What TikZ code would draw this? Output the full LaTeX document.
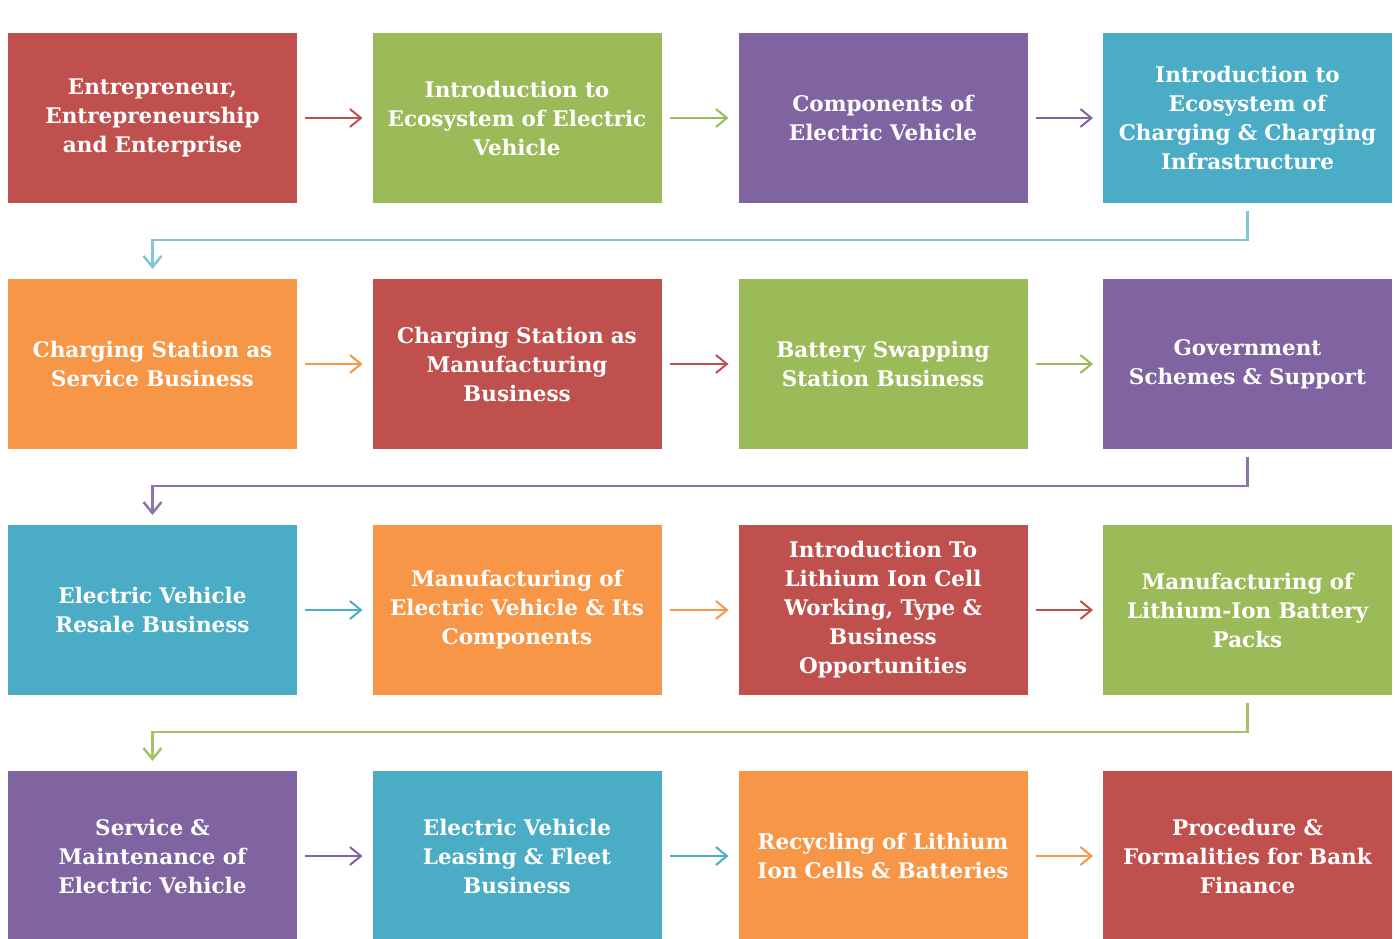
\documentclass[tikz,border=0pt]{standalone}
\usepackage{fontspec}
\setmainfont{DejaVu Serif}
\usetikzlibrary{arrows.meta}
\definecolor{cred}{HTML}{C0504D}
\definecolor{cgreen}{HTML}{9BBB59}
\definecolor{cpurple}{HTML}{8064A2}
\definecolor{cblue}{HTML}{4BACC6}
\definecolor{corange}{HTML}{F79646}
\tikzset{
  box/.style={minimum width=289pt, minimum height=170pt, inner sep=0pt, outer sep=0pt,
    text=white, font=\fontsize{21.5}{29}\selectfont\bfseries, align=center, text width=288pt},
  flow/.style={line width=2pt, -{Straight Barb[length=11pt,width=18pt,line width=2pt]}},
  wrap/.style={line width=2.5pt, -{Straight Barb[length=11pt,width=18pt,line width=2.5pt]}},
}
\begin{document}
\begin{tikzpicture}[x=1pt,y=-1pt]
\useasboundingbox (0,0) rectangle (1395,939);
% row 1
\node[box,fill=cred]    (a1) at (152.5,118) {Entrepreneur,\\Entrepreneurship\\and Enterprise};
\node[box,fill=cgreen]  (a2) at (517,118) {Introduction to\\Ecosystem of Electric\\Vehicle};
\node[box,fill=cpurple] (a3) at (883,118) {Components of\\Electric Vehicle};
\node[box,fill=cblue]   (a4) at (1247.5,118) {Introduction to\\Ecosystem of\\Charging \& Charging\\Infrastructure};
% row 2
\node[box,fill=corange] (b1) at (152.5,364) {Charging Station as\\Service Business};
\node[box,fill=cred]    (b2) at (517,364) {Charging Station as\\Manufacturing\\Business};
\node[box,fill=cgreen]  (b3) at (883,364) {Battery Swapping\\Station Business};
\node[box,fill=cpurple] (b4) at (1247.5,364) {Government\\Schemes \& Support};
% row 3
\node[box,fill=cblue]   (c1) at (152.5,610) {Electric Vehicle\\Resale Business};
\node[box,fill=corange] (c2) at (517,610) {Manufacturing of\\Electric Vehicle \& Its\\Components};
\node[box,fill=cred]    (c3) at (883,610) {Introduction To\\Lithium Ion Cell\\Working, Type \&\\Business\\Opportunities};
\node[box,fill=cgreen]  (c4) at (1247.5,610) {Manufacturing of\\Lithium-Ion Battery\\Packs};
% row 4
\node[box,fill=cpurple] (d1) at (152.5,856) {Service \&\\Maintenance of\\Electric Vehicle};
\node[box,fill=cblue]   (d2) at (517,856) {Electric Vehicle\\Leasing \& Fleet\\Business};
\node[box,fill=corange] (d3) at (883,856) {Recycling of Lithium\\Ion Cells \& Batteries};
\node[box,fill=cred]    (d4) at (1247.5,856) {Procedure \&\\Formalities for Bank\\Finance};
% horizontal arrows
\draw[flow,cred]    ([xshift=8pt]a1.east) -- ([xshift=-10pt]a2.west);
\draw[flow,cgreen]  ([xshift=8pt]a2.east) -- ([xshift=-10pt]a3.west);
\draw[flow,cpurple] ([xshift=8pt]a3.east) -- ([xshift=-10pt]a4.west);
\draw[flow,corange] ([xshift=8pt]b1.east) -- ([xshift=-10pt]b2.west);
\draw[flow,cred]    ([xshift=8pt]b2.east) -- ([xshift=-10pt]b3.west);
\draw[flow,cgreen]  ([xshift=8pt]b3.east) -- ([xshift=-10pt]b4.west);
\draw[flow,cblue]   ([xshift=8pt]c1.east) -- ([xshift=-10pt]c2.west);
\draw[flow,corange] ([xshift=8pt]c2.east) -- ([xshift=-10pt]c3.west);
\draw[flow,cred]    ([xshift=8pt]c3.east) -- ([xshift=-10pt]c4.west);
\draw[flow,cpurple] ([xshift=8pt]d1.east) -- ([xshift=-10pt]d2.west);
\draw[flow,cblue]   ([xshift=8pt]d2.east) -- ([xshift=-10pt]d3.west);
\draw[flow,corange] ([xshift=8pt]d3.east) -- ([xshift=-10pt]d4.west);
% row wraps
\draw[wrap,cblue!70]   ([yshift=-8pt]a4.south) -- ++(0,29) -| ([yshift=10pt]b1.north);
\draw[wrap,cpurple!90] ([yshift=-8pt]b4.south) -- ++(0,29) -| ([yshift=10pt]c1.north);
\draw[wrap,cgreen!90]  ([yshift=-8pt]c4.south) -- ++(0,29) -| ([yshift=10pt]d1.north);
\end{tikzpicture}
\end{document}
